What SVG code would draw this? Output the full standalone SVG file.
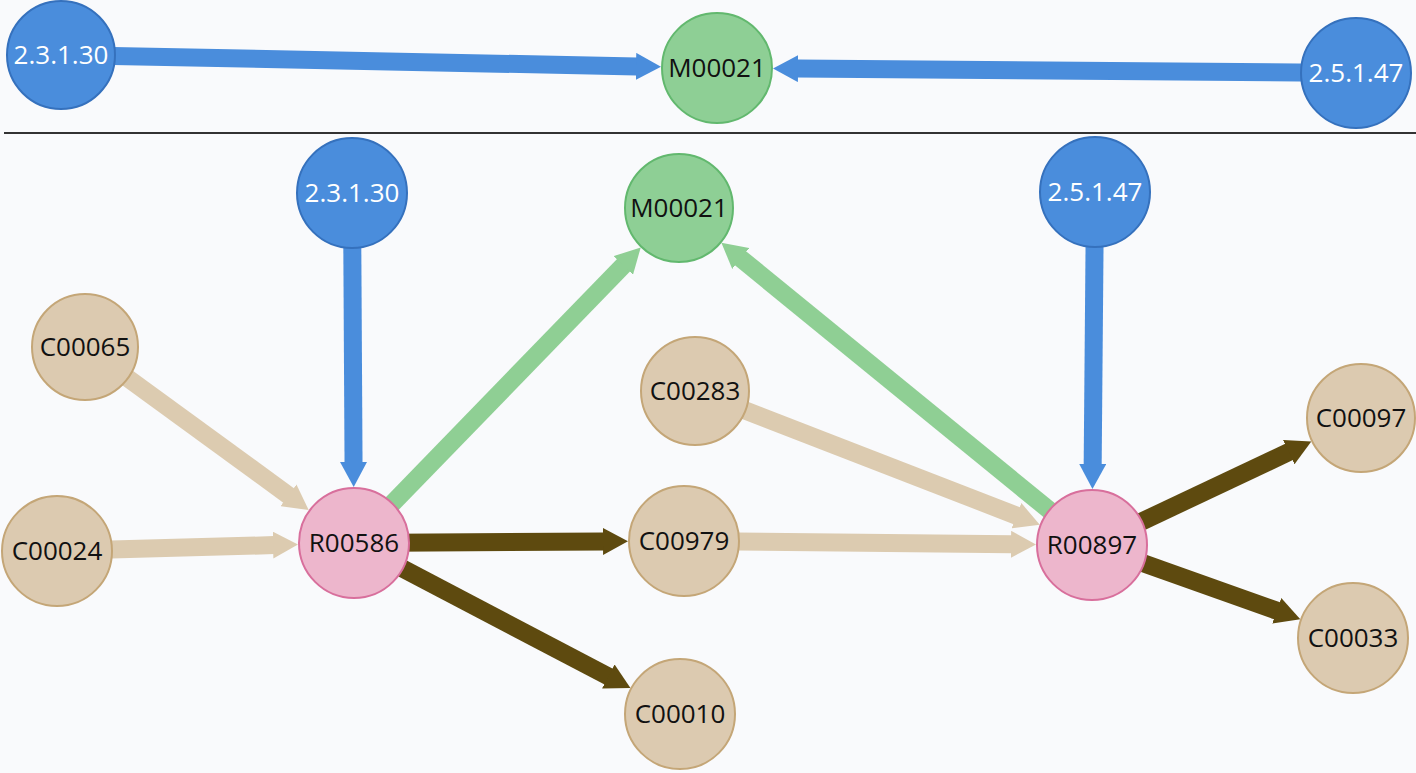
<svg xmlns="http://www.w3.org/2000/svg" width="1416" height="773" viewBox="0 0 1416 773">
<style>
.lbl{font-family:"Open Sans","Liberation Sans",sans-serif;font-size:26px;text-anchor:middle;fill:#111}
.lw{fill:#fff}
.enz{fill:#4a8ddc;stroke:#3571bd;stroke-width:2}
.mod{fill:#8ecf95;stroke:#62b86e;stroke-width:2}
.cpd{fill:#dccab0;stroke:#c4a677;stroke-width:2}
.rxn{fill:#edb6cc;stroke:#d86f9c;stroke-width:2}
.eb{stroke:#4a8ddc;stroke-width:18;fill:none;marker-end:url(#ab)}
.eg{stroke:#8fcf94;stroke-width:18;fill:none;marker-end:url(#ag)}
.et{stroke:#dccbb0;stroke-width:18;fill:none;marker-end:url(#at)}
.ed{stroke:#5e4a0f;stroke-width:18;fill:none;marker-end:url(#ad)}
</style>
<defs>
<marker id="ab" markerUnits="userSpaceOnUse" markerWidth="25" markerHeight="27" viewBox="0 0 25 27" refX="1" refY="13.5" orient="auto"><path d="M0,0 L25,13.5 L0,27 z" fill="#4a8ddc"/></marker>
<marker id="ag" markerUnits="userSpaceOnUse" markerWidth="25" markerHeight="27" viewBox="0 0 25 27" refX="1" refY="13.5" orient="auto"><path d="M0,0 L25,13.5 L0,27 z" fill="#8fcf94"/></marker>
<marker id="at" markerUnits="userSpaceOnUse" markerWidth="25" markerHeight="27" viewBox="0 0 25 27" refX="1" refY="13.5" orient="auto"><path d="M0,0 L25,13.5 L0,27 z" fill="#dccbb0"/></marker>
<marker id="ad" markerUnits="userSpaceOnUse" markerWidth="25" markerHeight="27" viewBox="0 0 25 27" refX="1" refY="13.5" orient="auto"><path d="M0,0 L25,13.5 L0,27 z" fill="#5e4a0f"/></marker>
</defs>
<rect x="0" y="0" width="1416" height="773" fill="#f9fafc"/>
<line x1="4" y1="133" x2="1416" y2="133" stroke="#333" stroke-width="2"/>
<g id="connectors">
<line class="eb" x1="61" y1="55" x2="637" y2="66.4"/>
<line class="eb" x1="1356" y1="73" x2="797" y2="68.6"/>
<line class="eb" x1="352" y1="193" x2="353.55" y2="463"/>
<line class="eb" x1="1095" y1="192" x2="1092.67" y2="465"/>
<line class="eg" x1="354" y1="543" x2="624" y2="264.7"/>
<line class="eg" x1="1092" y1="545" x2="740" y2="257.9"/>
<line class="et" x1="85" y1="347" x2="289.3" y2="495.9"/>
<line class="et" x1="57" y1="551" x2="274" y2="545.1"/>
<line class="et" x1="695" y1="391" x2="1017.4" y2="516"/>
<line class="et" x1="684" y1="541" x2="1012" y2="544.3"/>
<line class="ed" x1="354" y1="543" x2="604" y2="541.5"/>
<line class="ed" x1="354" y1="543" x2="609.2" y2="676.9"/>
<line class="ed" x1="1092" y1="545" x2="1289.6" y2="451.7"/>
<line class="ed" x1="1092" y1="545" x2="1277.7" y2="611.1"/>
</g>
<g id="top-2.3.1.30"><circle class="enz" cx="61" cy="55" r="54"/><text class="lbl lw" x="61" y="64">2.3.1.30</text></g>
<g id="top-M00021"><circle class="mod" cx="717" cy="68" r="55"/><text class="lbl" x="717" y="77">M00021</text></g>
<g id="top-2.5.1.47"><circle class="enz" cx="1356" cy="73" r="55"/><text class="lbl lw" x="1356" y="82">2.5.1.47</text></g>
<g id="n-2.3.1.30"><circle class="enz" cx="352" cy="193" r="55"/><text class="lbl lw" x="352" y="202">2.3.1.30</text></g>
<g id="n-M00021"><circle class="mod" cx="679" cy="208" r="54"/><text class="lbl" x="679" y="217">M00021</text></g>
<g id="n-2.5.1.47"><circle class="enz" cx="1095" cy="192" r="55"/><text class="lbl lw" x="1095" y="201">2.5.1.47</text></g>
<g id="n-C00065"><circle class="cpd" cx="85" cy="347" r="53"/><text class="lbl" x="85" y="356">C00065</text></g>
<g id="n-C00024"><circle class="cpd" cx="57" cy="551" r="55"/><text class="lbl" x="57" y="560">C00024</text></g>
<g id="n-R00586"><circle class="rxn" cx="354" cy="543" r="55"/><text class="lbl" x="354" y="552">R00586</text></g>
<g id="n-C00979"><circle class="cpd" cx="684" cy="541" r="55"/><text class="lbl" x="684" y="550">C00979</text></g>
<g id="n-C00010"><circle class="cpd" cx="680" cy="714" r="55"/><text class="lbl" x="680" y="723">C00010</text></g>
<g id="n-C00283"><circle class="cpd" cx="695" cy="391" r="54"/><text class="lbl" x="695" y="400">C00283</text></g>
<g id="n-R00897"><circle class="rxn" cx="1092" cy="545" r="55"/><text class="lbl" x="1092" y="554">R00897</text></g>
<g id="n-C00097"><circle class="cpd" cx="1361" cy="418" r="54"/><text class="lbl" x="1361" y="427">C00097</text></g>
<g id="n-C00033"><circle class="cpd" cx="1353" cy="638" r="55"/><text class="lbl" x="1353" y="647">C00033</text></g>
</svg>
